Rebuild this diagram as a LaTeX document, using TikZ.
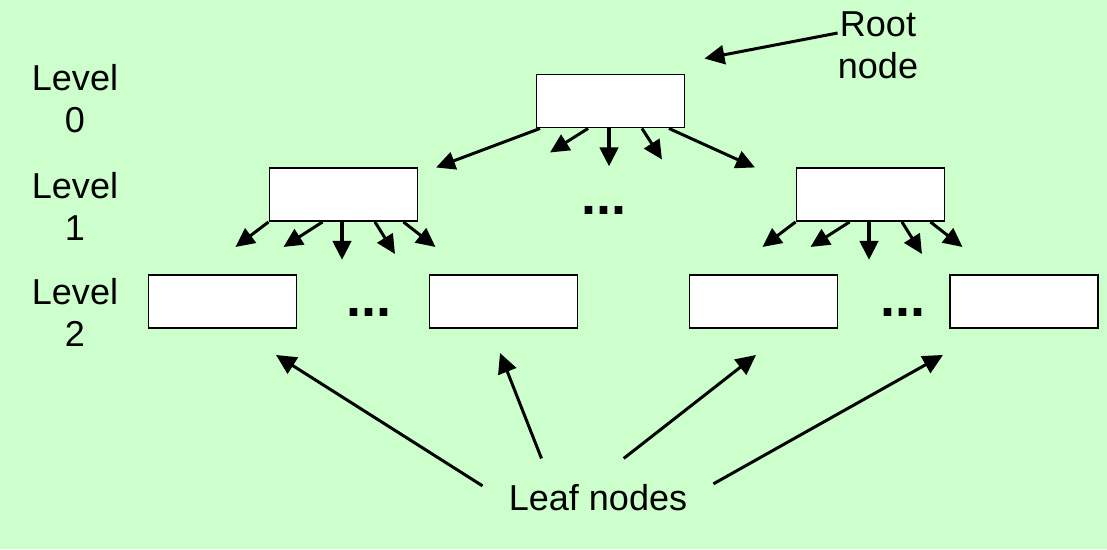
\documentclass[tikz,border=0pt]{standalone}
\usepackage{fontspec}
\setmainfont{Liberation Sans}
\usetikzlibrary{arrows.meta, calc}
\definecolor{PaleGreen}{RGB}{204,255,204}

\begin{document}
\begin{tikzpicture}[x=0.02cm, y=-0.02cm,
		box/.style={draw, fill=white, line width=1.1pt, minimum width=2.96cm, minimum height=1.06cm, inner sep=0pt},
		lbl/.style={align=center, inner sep=0pt, font=\fontsize{20.5}{23.9}\selectfont},
		ellip/.style={inner sep=0pt, font=\fontsize{30.7}{30.7}\selectfont\bfseries},
		ptr/.style={line width=1.7pt, -{Triangle[length=0.4cm, width=0.38cm]}},
		kid/.style={-{Triangle[length=0.38cm, width=0.36cm]}}]
		\fill[PaleGreen] (0, 0) rectangle (1107, 549);
		\useasboundingbox (0, 0) rectangle (1107, 549);
		
		% levels
		\node[lbl] (lev0) at (75, 99) {Level\\0};
		\node[lbl] (lev1) at (75, 206) {Level\\1};
		\node[lbl] (lev2) at (75, 312) {Level\\2};
		
		% boxes
		\node[box] (root) at (610.5, 101) {};
		\node[box] (l1a) at (343.5, 194.5) {};
		\node[box] (l1b) at (870.5, 194.5) {};
		\node[box] (l2a) at (222.5, 301.5) {};
		\node[box] (l2b) at (503.5, 301.5) {};
		\node[box] (l2c) at (763.5, 301.5) {};
		\node[box] (l2d) at (1024, 301.5) {};
		
		\node[ellip] (dot1) at (604, 210.5) {...};
		\node[ellip] (dot2a) at (368.5, 312.5) {...};
		\node[ellip] (dot2b) at (903, 312.5) {...};
		
		% children arrows
		\foreach \f/\dx/\dy/\w in {0.03/-104/39/1.7, 0.35/-38/24/1.7, 0.49/0/38/2.4, 0.71/20/31/1.7, 0.89/86/39/1.7}
			\draw[kid, line width=\w pt] ($(root.south west)!\f!(root.south east)$) -- ++(\dx, \dy);
		\foreach \n in {l1a, l1b}
			\foreach \f/\dx/\dy/\w in {0/-33/25/1.7, 0.36/-39/25/1.7, 0.49/0/38/2.4, 0.71/20/32/1.7, 0.9/32/25/1.7}
				\draw[kid, line width=\w pt] ($(\n.south west)!\f!(\n.south east)$) -- ++(\dx, \dy);
		
		% labels
		\node[lbl] (rootlbl) at (878, 45) {Root\\node};
		\draw[ptr] ([yshift=0.24cm]rootlbl.west) -- ([shift={(19,-15)}]root.north east);
		
		\node[lbl, inner sep=0.52cm] (leaf) at (598, 498) {Leaf nodes};
		\draw[ptr] (leaf.174) -- ([shift={(53.5,26)}]l2a.south);
		\draw[ptr] (leaf.145) -- ([shift={(-3.5,24)}]l2b.south);
		\draw[ptr] (leaf.57) -- ([shift={(-7.5,26)}]l2c.south);
		\draw[ptr] (leaf.7) -- ([shift={(-81,26)}]l2d.south);
	\end{tikzpicture}
\end{document}
